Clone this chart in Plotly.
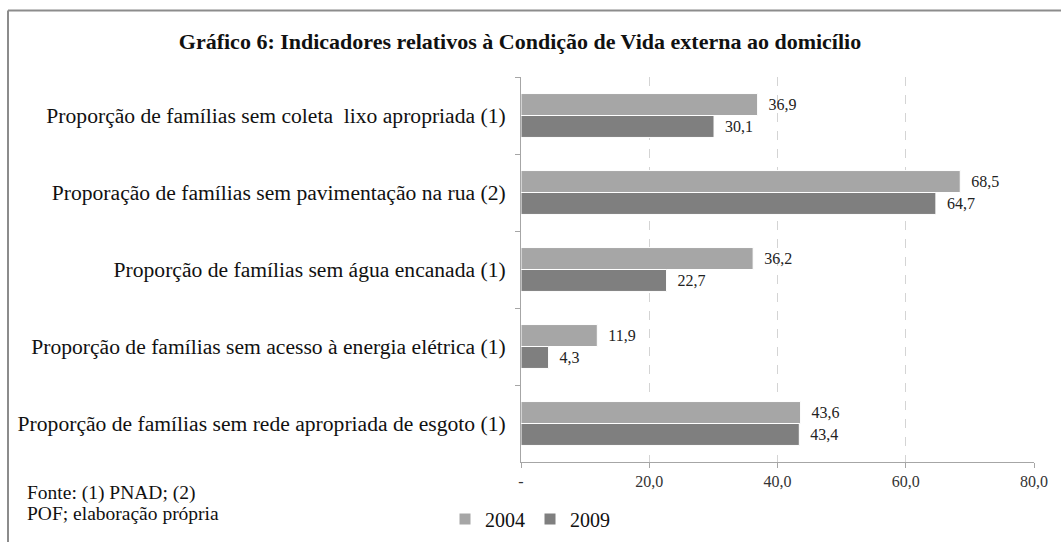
import plotly.graph_objects as go

# ── Data ──────────────────────────────────────────────────────
categories = [
    "Proporção de famílias sem coleta  lixo apropriada (1)",
    "Proporação de famílias sem pavimentação na rua (2)",
    "Proporção de famílias sem água encanada (1)",
    "Proporção de famílias sem acesso à energia elétrica (1)",
    "Proporção de famílias sem rede apropriada de esgoto (1)",
]
values_2004 = [36.9, 68.5, 36.2, 11.9, 43.6]
values_2009 = [30.1, 64.7, 22.7, 4.3, 43.4]

x_tickvals = [0, 20, 40, 60, 80]
x_ticktext = ["-", "20,0", "40,0", "60,0", "80,0"]

SERIF = "Liberation Serif, Times New Roman, serif"
W, H = 1061, 542
L, R, T, B = 521, 27, 77, 80
PW, PH = W - L - R, H - T - B


def px_x(px):
    return (px - L) / PW


def px_y(py):
    return (H - B - py) / PH


fig = go.Figure()

for name, vals, color in [("2004", values_2004, "#a6a6a6"),
                          ("2009", values_2009, "#7f7f7f")]:
    fig.add_trace(go.Bar(
        y=categories,
        x=vals,
        name=name,
        orientation="h",
        marker=dict(color=color, line=dict(color="white", width=1)),
        texttemplate="\u00a0\u00a0%{x:.1f}",
        textposition="outside",
        textfont=dict(family=SERIF, size=16, color="#222"),
        cliponaxis=False,
        hoverinfo="skip",
    ))

# ── Frame (left and top edges only) ───────────────────────────
fig.add_shape(type="line", xref="paper", yref="paper",
              x0=px_x(8), x1=px_x(8), y0=px_y(10.5), y1=px_y(H),
              line=dict(color="#8c8c8c", width=2))
fig.add_shape(type="line", xref="paper", yref="paper",
              x0=px_x(8), x1=px_x(W), y0=px_y(10.5), y1=px_y(10.5),
              line=dict(color="#8c8c8c", width=2))

# ── Source note ───────────────────────────────────────────────
for txt, ypx in [("Fonte: (1) PNAD; (2)", 493), ("POF; elaboração própria", 513)]:
    fig.add_annotation(text=txt, xref="paper", yref="paper",
                       x=px_x(25), y=px_y(ypx), xanchor="left", yanchor="middle",
                       showarrow=False, font=dict(family=SERIF, size=19.5, color="#111"))

fig.update_layout(
    width=W, height=H,
    margin=dict(l=L, r=R, t=T, b=B, autoexpand=False),
    paper_bgcolor="white",
    plot_bgcolor="white",
    separators=",.",
    barmode="group",
    bargap=0.43,
    bargroupgap=0,
    title=dict(
        text="<b>Gráfico 6: Indicadores relativos à Condição de Vida externa ao domicílio</b>",
        x=520 / W, xref="container", xanchor="center",
        y=1 - 41 / H, yref="container", yanchor="middle",
        font=dict(family=SERIF, size=22, color="#111"),
    ),
    legend=dict(
        orientation="h",
        x=px_x(530), xanchor="center",
        y=px_y(519), yanchor="middle",
        font=dict(family=SERIF, size=20, color="#111"),
        itemwidth=30,
        traceorder="normal",
    ),
    showlegend=True,
)

fig.update_xaxes(
    range=[0, 80],
    tickvals=x_tickvals,
    ticktext=x_ticktext,
    showline=True, linecolor="#a6a6a6", linewidth=1,
    ticks="outside", ticklen=5, tickcolor="#a6a6a6",
    showgrid=True, gridcolor="#d4d4d4", griddash="dash", gridwidth=1,
    zeroline=False,
    tickfont=dict(family=SERIF, size=16, color="#333"),
)
fig.update_yaxes(
    autorange="reversed",
    showline=True, linecolor="#a6a6a6", linewidth=1,
    ticks="outside", ticklen=5, tickcolor="#a6a6a6",
    tickson="boundaries",
    ticklabelstandoff=10,
    showgrid=False,
    tickfont=dict(family=SERIF, size=21.6, color="#111"),
)

fig.write_html("out.html", config={"displayModeBar": False},
               post_script="document.body.style.margin='0px';")
